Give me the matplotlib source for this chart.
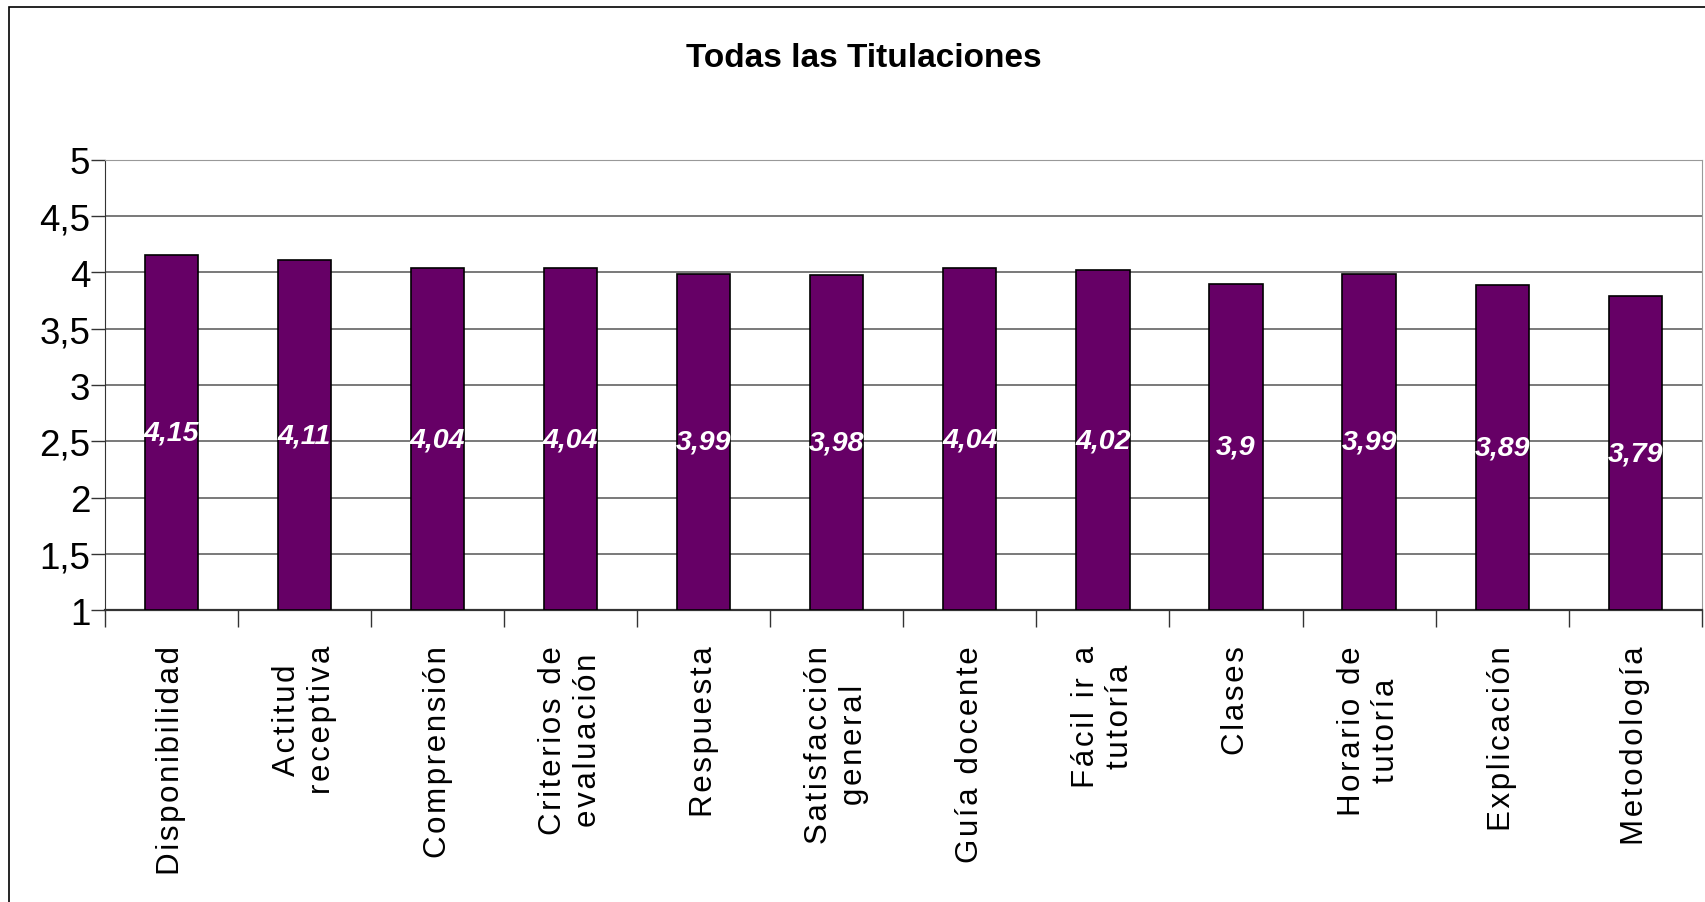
import numpy as np
import matplotlib
matplotlib.use("Agg")
import matplotlib.pyplot as plt

# Data
categories = ["Disponibilidad", "Actitud\nreceptiva", "Comprensión", "Criterios de\nevaluación",
              "Respuesta", "Satisfacción\ngeneral", "Guía docente", "Fácil ir a\ntutoría",
              "Clases", "Horario de\ntutoría", "Explicación", "Metodología"]
values = [4.15, 4.11, 4.04, 4.04, 3.99, 3.98, 4.04, 4.02, 3.9, 3.99, 3.89, 3.79]
value_labels = ["4,15", "4,11", "4,04", "4,04", "3,99", "3,98", "4,04", "4,02", "3,9", "3,99", "3,89", "3,79"]
y_ticks = [1, 1.5, 2, 2.5, 3, 3.5, 4, 4.5, 5]
y_tick_labels = ["1", "1,5", "2", "2,5", "3", "3,5", "4", "4,5", "5"]
title = "Todas las Titulaciones"

FONT = "Liberation Sans"


def spaced(s):
    # the original labels have wide letter spacing; fake it with hair spaces
    return "\n".join("\u200a".join(line) for line in s.split("\n"))


fig = plt.figure(figsize=(17.06, 9.03), dpi=100)
ax = fig.add_axes([0.0615, 0.323, 0.936, 0.499])

base = 1
x = np.arange(len(values))
heights = [v - base for v in values]
ax.bar(x, heights, bottom=base, width=0.4, color="#660066", edgecolor="black",
       linewidth=1.2, zorder=3)

for xi, v, lab in zip(x, values, value_labels):
    ax.text(xi, (base + v) / 2, lab, ha="center", va="center", color="white",
            fontsize=20.5, fontweight="bold", fontstyle="italic", family=FONT, zorder=4)

ax.set_xlim(-0.5, len(values) - 0.5)
ax.set_ylim(1, 5)
ax.set_yticks(y_ticks)
ax.set_yticklabels(y_tick_labels, family=FONT, fontsize=26.5)
ax.yaxis.grid(True, color="#555555", linewidth=1.1, zorder=0)

# major ticks at category boundaries, labels on minor ticks
ax.set_xticks(np.arange(len(values) + 1) - 0.5)
ax.set_xticklabels([])
ax.set_xticks(x, minor=True)
ax.set_xticklabels([spaced(c) for c in categories], minor=True, rotation=90,
                   ha="center", va="top", family=FONT, fontsize=22.5,
                   multialignment="center")
ax.tick_params(axis="x", which="minor", length=0, pad=25)
ax.tick_params(axis="x", which="major", length=12, width=1, color="#333333")
ax.tick_params(axis="y", length=10, width=1, color="#333333", pad=0.5)

for s in ["top", "right"]:
    ax.spines[s].set_color("#999999")
ax.spines["left"].set_color("#333333")
ax.spines["bottom"].set_color("#333333")
ax.spines["bottom"].set_linewidth(1.6)

fig.text(0.5065, 0.935, title, ha="center", va="center", fontsize=24,
         fontweight="bold", family=FONT)

# chart area border
fig.add_artist(plt.Rectangle((0.0055, -0.01), 1.2, 1.001, transform=fig.transFigure,
                             fill=False, edgecolor="black", linewidth=1.2))

fig.savefig("out.png", dpi=100, facecolor="white")
